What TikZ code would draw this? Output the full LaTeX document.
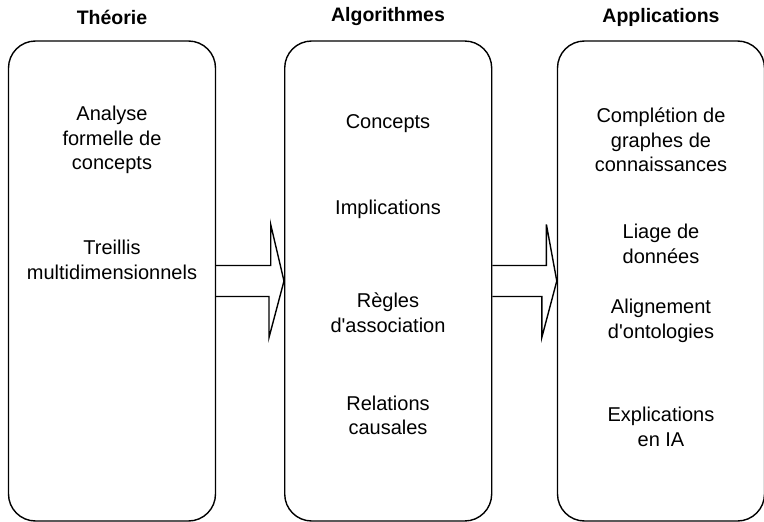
\documentclass[tikz,border=0pt]{standalone}
\usepackage{fontspec}
\setmainfont{Liberation Sans}
\usetikzlibrary{calc}
\tikzset{
    col-box/.style={
        draw, line width=1.4pt, rounded corners=27pt,
        minimum width=207pt, minimum height=480pt
    },
    col-title/.style={font=\fontsize{19.5}{22}\selectfont\bfseries},
    col-item/.style={align=center, font=\fontsize{20}{24.5}\selectfont},
    big-arrow/.style={draw, line width=1.4pt, line join=miter},
}
\newcommand{\apos}{\textquotesingle}

\begin{document}
\begin{tikzpicture}[x=1pt, y=-1pt]
        \useasboundingbox (0,0) rectangle (764,522);

        % TITLES
        \node[col-title] (T1) at (112,17) {Théorie};
        \node[col-title] (T2) at (388,17) {Algorithmes};
        \node[col-title] (T3) at (661,17) {Applications};

        % BOXES
        \node[col-box] (THEO) at (112,281)   {};
        \node[col-box] (ALGO) at (388.2,281) {};
        \node[col-box] (APPL) at (661,281)   {};

        % THEORIE
        \node[col-item] (FCA)  at (112,140) {Analyse\\formelle de\\concepts};
        \node[col-item] (TRE)  at (112,260) {Treillis\\multidimensionnels};

        % ALGORITHMES
        \node[col-item] (CON)  at (388,123.5) {Concepts};
        \node[col-item] (IMP)  at (388,209.5) {Implications};
        \node[col-item] (REG)  at (388,312.5) {Règles\\d\apos association};
        \node[col-item] (REL)  at (388,415.5) {Relations\\causales};

        % APPLICATIONS
        \node[col-item] (KGC)  at (661,140) {Complétion de\\graphes de\\connaissances};
        \node[col-item] (LIA)  at (661,244) {Liage de\\données};
        \node[col-item] (ALI)  at (661,321) {Alignement\\d\apos ontologies};
        \node[col-item] (EXP)  at (661,427) {Explications\\en IA};

        % ARROW THEORIE -> ALGORITHMES
        \coordinate (A1TOP) at ($(THEO.east) + (0,-15.5)$);
        \coordinate (A1BOT) at ($(THEO.east) + (0,15.5)$);
        \draw[big-arrow] (A1TOP) -- ++(54.5,0) -- ++(0,-41) -- (ALGO.west)
            -- ($(ALGO.west) + (-15,56.5)$) -- ++(0,-41) -- (A1BOT);

        % ARROW ALGORITHMES -> APPLICATIONS
        \coordinate (A2TOP) at ($(ALGO.east) + (0,-15.5)$);
        \coordinate (A2BOT) at ($(ALGO.east) + (0,15.5)$);
        \draw[big-arrow] (A2TOP) -- ++(54,0) -- ++(0,-41) -- (APPL.west)
            -- ($(APPL.west) + (-15,56.5)$) -- ++(0,-41) -- (A2BOT);

    \end{tikzpicture}
\end{document}
